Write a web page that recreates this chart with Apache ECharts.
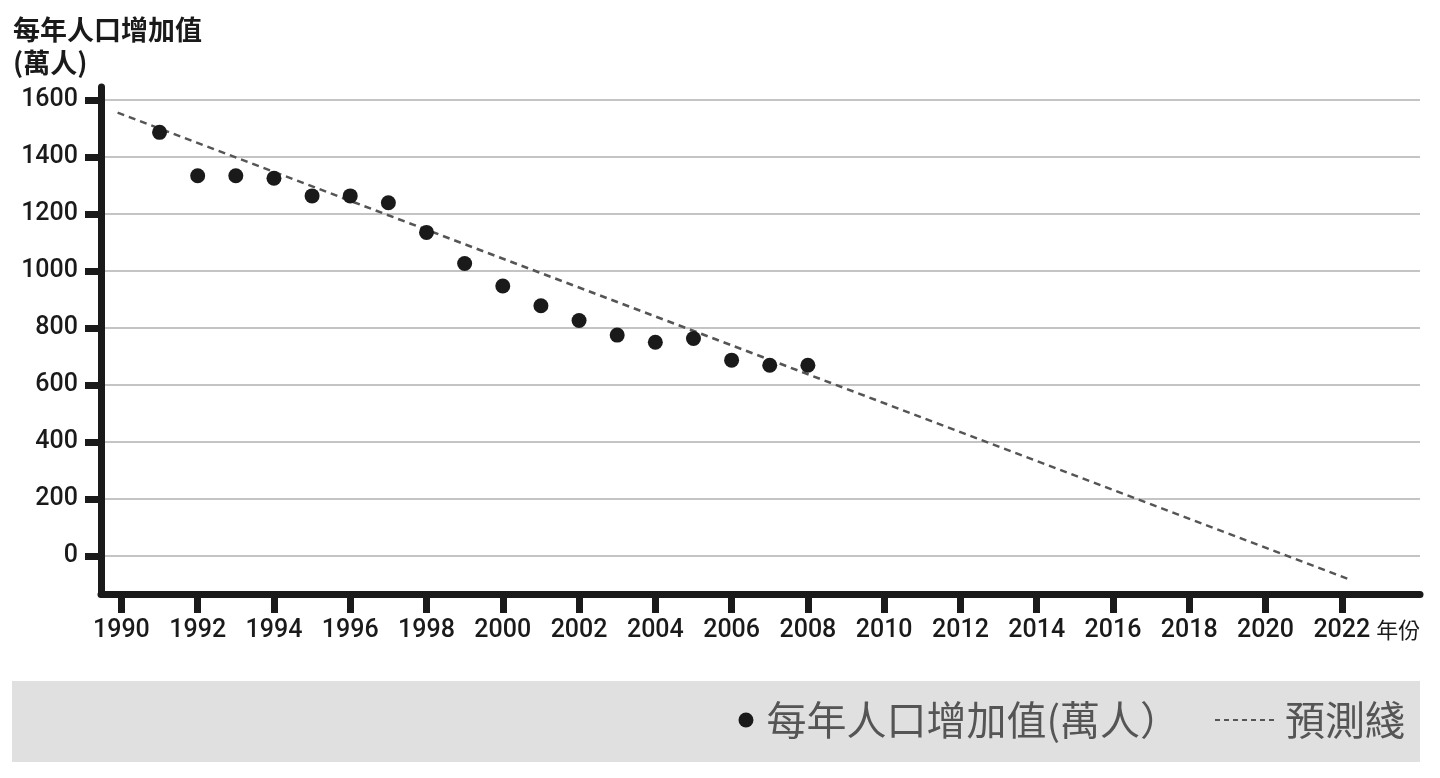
<!DOCTYPE html>
<html>
<head>
<meta charset="utf-8">
<script src="https://cdn.jsdelivr.net/npm/echarts@6/dist/echarts.min.js"></script>
<style>
html,body{margin:0;padding:0;background:#fff;}
#chart{width:1440px;height:778px;}
</style>
</head>
<body>
<div id="chart"></div>
<script>
// ---- data ----
const years = [1991,1992,1993,1994,1995,1996,1997,1998,1999,2000,2001,2002,2003,2004,2005,2006,2007,2008];
const increase = [1486,1334,1334,1325,1263,1263,1239,1135,1026,947,878,826,775,750,763,687,669,669];
const trendX = [1989.9, 2022.2];
const trendY = [1555, -82];
const xTickYears = [1990,1992,1994,1996,1998,2000,2002,2004,2006,2008,2010,2012,2014,2016,2018,2020,2022];
const yTicks = [0,200,400,600,800,1000,1200,1400,1600];
const scatterName = '每年人口增加值(萬人）';
const lineName = '預測綫';
const yTitle = '每年人口增加值\n(萬人)';
const xUnit = '年份';

const numFont = "'Roboto',sans-serif";
const cjkFont = "'Noto Sans CJK TC','Noto Sans CJK SC',sans-serif";

const chart = echarts.init(document.getElementById('chart'), null, {renderer:'canvas'});
chart.setOption({
  animation: false,
  backgroundColor: '#fff',
  title: {
    text: yTitle,
    left: 10, top: 8, padding: [5,3,5,3],
    textStyle: {fontFamily: cjkFont, fontSize: 27, fontWeight: 'bold', color: '#1a1a1a', lineHeight: 33}
  },
  graphic: [{
    type: 'rect', left: 12, top: 681, z: -10,
    shape: {width: 1408, height: 81},
    style: {fill: '#e0e0e0'}
  }],
  legend: [{
    data: [{name: scatterName, icon: 'circle'}],
    right: 260, top: 700, padding: 0,
    itemWidth: 15, itemHeight: 15,
    textStyle: {fontFamily: cjkFont, fontSize: 40, color: '#555', padding: [0,0,0,8]}
  },{
    data: [{name: lineName, itemStyle: {opacity: 0}}],
    right: 35, top: 700, padding: 0,
    itemWidth: 60, itemHeight: 14,
    lineStyle: {type: [5,4], width: 2, color: '#555'},
    textStyle: {fontFamily: cjkFont, fontSize: 40, color: '#555', padding: [0,0,0,5]}
  }],
  grid: {left: 101, top: 87, right: 20, bottom: 184, containLabel: false},
  xAxis: {
    type: 'value', min: 1989.465, max: 2024.05,
    name: xUnit, nameLocation: 'end', nameGap: -46,
    nameTextStyle: {fontFamily: cjkFont, fontSize: 22, color: '#1a1a1a', align: 'left', verticalAlign: 'top', padding: [25,0,0,0]},
    axisLine: {show: true, onZero: false, lineStyle: {color: '#1a1a1a', width: 7}},
    axisTick: {show: true, length: 19, customValues: xTickYears, lineStyle: {color: '#1a1a1a', width: 7}},
    axisLabel: {customValues: xTickYears, margin: 24, fontFamily: numFont, fontSize: 25, fontWeight: 500, color: '#1a1a1a',
      formatter: v => String(v)},
    splitLine: {show: false}
  },
  yAxis: {
    type: 'value', min: -133, max: 1645,
    axisLine: {show: true, lineStyle: {color: '#1a1a1a', width: 7}},
    axisTick: {show: true, length: 16, customValues: yTicks, lineStyle: {color: '#1a1a1a', width: 7}},
    axisLabel: {customValues: yTicks, margin: 23, fontFamily: numFont, fontSize: 25, fontWeight: 500, color: '#1a1a1a',
      padding: [5,0,0,0], formatter: v => String(v)},
    splitLine: {show: true, lineStyle: {color: '#c4c4c4', width: 2}}
  },
  series: [{
    name: scatterName,
    type: 'scatter',
    symbolSize: 15,
    itemStyle: {color: '#1a1a1a', opacity: 1},
    data: years.map((y, i) => [y, increase[i]]),
    z: 3
  },{
    name: lineName,
    type: 'line',
    symbol: 'none',
    itemStyle: {color: '#555'},
    lineStyle: {color: '#555', width: 2.5, type: [7,5]},
    data: trendX.map((x, i) => [x, trendY[i]]),
    z: 2
  }]
});
</script>
</body>
</html>
